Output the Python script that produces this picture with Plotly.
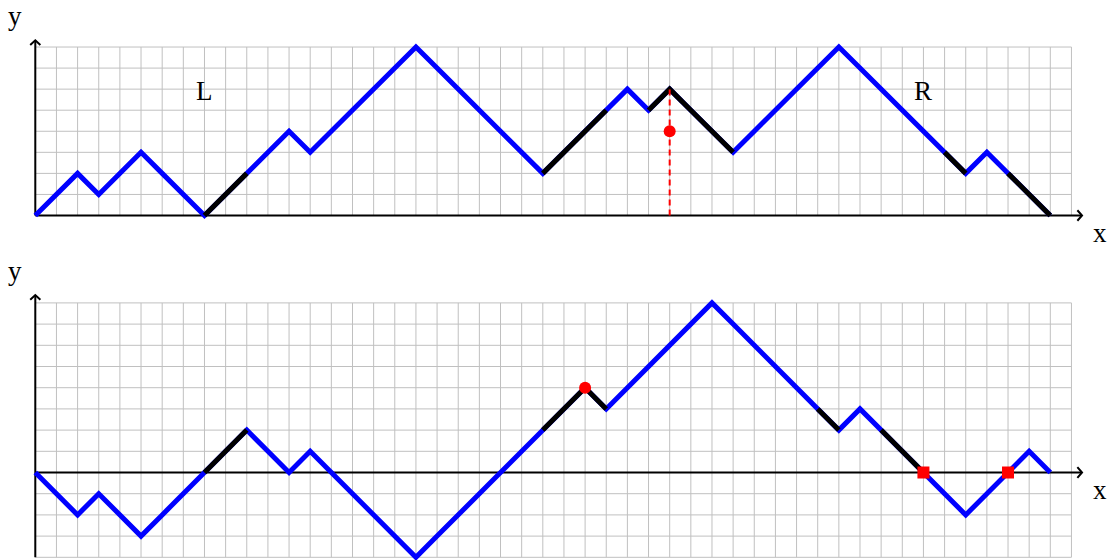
import plotly.graph_objects as go

# ---- data ----
steps = list(range(49))
top_path = [0,1,2,1,2,3,2,1,0, 1,2,3,4,3, 4,5,6,7,8, 7,6,5,4,3,2, 3,4,5,6, 5, 6, 5,4,3,
            4,5,6,7,8, 7,6,5,4,3,2, 3, 2, 1,0]
bot_path = [0,-1,-2,-1,-2,-3,-2,-1,0, 1,2,1,0,1, 0,-1,-2,-3,-4, -3,-2,-1,0,1,2, 3,4, 3,
            4,5,6,7,8, 7,6,5,4,3,2, 3, 2, 1,0, -1,-2, -1,0, 1,0]
top_black = [(8, 10), (24, 27), (29, 33), (43, 44), (46, 48)]
bot_black = [(8, 10), (24, 27), (37, 38), (40, 42)]
top_dot = (30, 4)
top_dash_x, top_dash_y = [30, 30], [0, 6]
bot_dot = (26, 4)
bot_squares_x, bot_squares_y = [42, 46], [0, 0]
labels_top = [("L", 8, 5.9), ("R", 42, 5.9)]
grid_x = (0, 49)
grid_y_top = (0, 8)
grid_y_bot = (-4, 8)

# ---- layout constants ----
W, H = 1109, 560
X0PX, UX = 35.3, 21.146
xmin = -X0PX / UX
xmax = xmin + W / UX
BLUE, BLACK, RED, GRID = "#0000ff", "#000000", "#ff0000", "#c0c0c0"
FONT = "Liberation Serif"
PATH_W = 5

fig = go.Figure()

def grid(xa, ya, y0, y1):
    gx, gy = [], []
    for i in range(grid_x[0], grid_x[1] + 1):
        gx += [i, i, None]; gy += [y0, y1, None]
    for j in range(y0, y1 + 1):
        gx += [grid_x[0], grid_x[1], None]; gy += [j, j, None]
    fig.add_trace(go.Scatter(x=gx, y=gy, mode="lines", line=dict(color=GRID, width=1),
                             xaxis=xa, yaxis=ya, hoverinfo="skip", showlegend=False))

def axes(xa, ya, ybottom, ytip):
    xt = 49.5
    ax, ay = [0, xt, None, xt - 0.22, xt, xt - 0.22, None, 0, 0, None, -0.24, 0, 0.24],\
             [0, 0, None, 0.25, 0, -0.25, None, ybottom, ytip, None, ytip - 0.22, ytip, ytip - 0.22]
    fig.add_trace(go.Scatter(x=ax, y=ay, mode="lines", line=dict(color=BLACK, width=2),
                             xaxis=xa, yaxis=ya, hoverinfo="skip", showlegend=False))

def path(xa, ya, ys, blacks):
    fig.add_trace(go.Scatter(x=steps, y=ys, mode="lines", line=dict(color=BLUE, width=PATH_W),
                             xaxis=xa, yaxis=ya, showlegend=False))
    for a, b in blacks:
        fig.add_trace(go.Scatter(x=steps[a:b + 1], y=ys[a:b + 1], mode="lines",
                                 line=dict(color=BLACK, width=PATH_W),
                                 xaxis=xa, yaxis=ya, showlegend=False))

# top panel
grid("x", "y", *grid_y_top)
axes("x", "y", 0, 8.32)
path("x", "y", top_path, top_black)
fig.add_trace(go.Scatter(x=top_dash_x, y=top_dash_y, mode="lines",
                         line=dict(color=RED, width=2, dash="6px,4px"),
                         xaxis="x", yaxis="y", showlegend=False))
fig.add_trace(go.Scatter(x=[top_dot[0]], y=[top_dot[1]], mode="markers",
                         marker=dict(color=RED, size=12), xaxis="x", yaxis="y",
                         showlegend=False, cliponaxis=False))

# bottom panel
grid("x2", "y2", *grid_y_bot)
axes("x2", "y2", -4, 8.37)
path("x2", "y2", bot_path, bot_black)
fig.add_trace(go.Scatter(x=[bot_dot[0]], y=[bot_dot[1]], mode="markers",
                         marker=dict(color=RED, size=12), xaxis="x2", yaxis="y2",
                         showlegend=False, cliponaxis=False))
fig.add_trace(go.Scatter(x=bot_squares_x, y=bot_squares_y, mode="markers",
                         marker=dict(color=RED, size=12, symbol="square"), xaxis="x2", yaxis="y2",
                         showlegend=False, cliponaxis=False))

anns = []
for t, x, y in labels_top:
    anns.append(dict(text=t, x=x, y=y, xref="x", yref="y", showarrow=False,
                     font=dict(family=FONT, size=27, color="black")))
for t, px, py in [("y", 15, 16), ("x", 1100, 233), ("y", 15, 271), ("x", 1100, 490)]:
    anns.append(dict(text=t, x=px / W, y=1 - py / H, xref="paper", yref="paper",
                     showarrow=False, xanchor="center", yanchor="middle",
                     font=dict(family=FONT, size=27, color="black")))

hidden = dict(visible=False, showgrid=False, zeroline=False, fixedrange=True)
UY1 = 21.06
UY2 = 21.2
fig.update_layout(
    width=W, height=H, margin=dict(l=0, r=0, t=0, b=0),
    paper_bgcolor="white", plot_bgcolor="white",
    xaxis=dict(range=[xmin, xmax], domain=[0, 1], anchor="y", **hidden),
    yaxis=dict(range=[-(250 - 215.5) / UY1, 215.5 / UY1], domain=[1 - 250 / H, 1],
               anchor="x", **hidden),
    xaxis2=dict(range=[xmin, xmax], domain=[0, 1], anchor="y2", **hidden),
    yaxis2=dict(range=[-(560 - 472.5) / UY2, (472.5 - 255) / UY2], domain=[0, 1 - 255 / H],
                anchor="x2", **hidden),
    annotations=anns,
)

fig.write_html("out.html", config={"displayModeBar": False},
               post_script="document.body.style.margin='0';document.body.style.overflow='hidden';")
